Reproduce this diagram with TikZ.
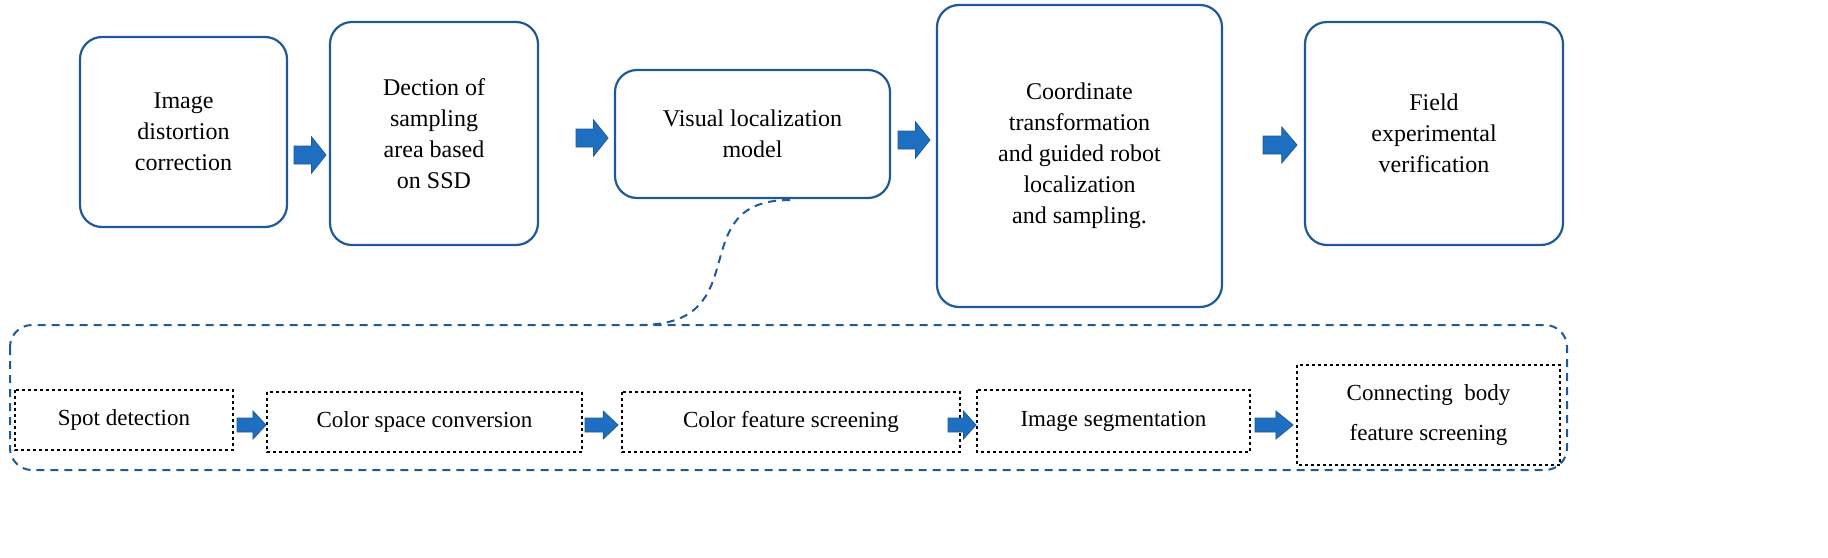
\documentclass[tikz,border=0pt]{standalone}
\usepackage{fontspec}
\setmainfont{Liberation Serif}
\definecolor{bb}{HTML}{1F5A96}
\definecolor{af}{HTML}{1E6FC2}
\begin{document}
\begin{tikzpicture}[x=1pt,y=-1pt,
 big/.style={draw=bb,line width=2.2pt,rounded corners=22pt},
 sm/.style={draw=black,dashed,line width=1.3pt}]
\path[use as bounding box] (0,0) rectangle (1828,557);
\def\bx#1#2#3#4#5#6{\path[big] (#2,#3) rectangle (#4,#5); \node[align=center,font=\fontsize{24}{31}\selectfont] (#1) at ({(#2+#4)/2},{(#3+#5)/2}) {#6};}
\def\barr#1#2#3#4{\draw[bb,fill=af,line width=0.8pt] (#1,{#2-#4/4}) -- ({#1+#3*0.55},{#2-#4/4}) -- ({#1+#3*0.55},{#2-#4/2}) -- ({#1+#3},#2) -- ({#1+#3*0.55},{#2+#4/2}) -- ({#1+#3*0.55},{#2+#4/4}) -- (#1,{#2+#4/4}) -- cycle;}
\bx{a}{80}{37}{287}{227}{Image\\distortion\\correction}
\bx{b}{330}{22}{538}{245}{Dection of\\sampling\\area based\\on SSD}
\bx{c}{615}{70}{890}{198}{Visual localization\\model}
\bx{d}{937}{5}{1222}{307}{Coordinate\\transformation\\and guided robot\\localization\\and sampling.}
\bx{e}{1305}{22}{1563}{245}{Field\\experimental\\verification}
\barr{294}{155}{32}{36}
\barr{576}{138}{32}{36}
\barr{898}{140}{32}{36}
\barr{1263}{145}{34}{36}
\draw[bb,line width=2pt,dash pattern=on 8pt off 6pt,rounded corners=22pt] (10,325) rectangle (1567,470);
\coordinate (p1) at (790,200); \coordinate (p2) at (640,325);
\draw[bb,line width=2pt,dash pattern=on 8pt off 6pt] (p1) .. controls (680,200) and (760,325) .. (p2);
\def\sb#1#2#3#4#5#6{\path[sm] (#2,#3) rectangle (#4,#5); \node[align=center,font=\fontsize{23}{40}\selectfont] (#1) at ({(#2+#4)/2},{(#3+#5)/2}) {#6};}
\sb{s1}{15}{390}{233}{450}{Spot detection}
\sb{s2}{267}{392}{582}{452}{Color space conversion}
\sb{s3}{622}{392}{960}{452}{Color feature screening}
\sb{s4}{977}{390}{1250}{452}{Image segmentation}
\sb{s5}{1297}{365}{1560}{465}{Connecting\ \ body\\feature screening}
\barr{237}{425}{29}{28}
\barr{585}{425}{33}{28}
\barr{948}{425}{28}{28}
\barr{1255}{425}{38}{28}
\end{tikzpicture}
\end{document}
